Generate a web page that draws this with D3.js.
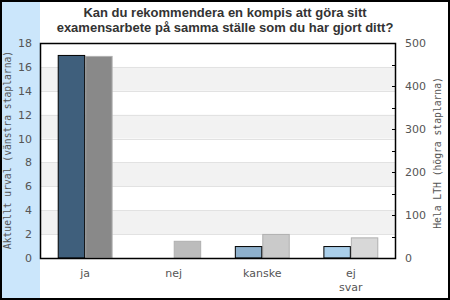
<!DOCTYPE html>
<html>
<head>
<meta charset="utf-8">
<script src="https://cdn.jsdelivr.net/npm/d3@7"></script>
<style>
body { margin: 0; background: #fff; }
</style>
</head>
<body>
<script>
var categories = ['ja', 'nej', 'kanske', 'ej svar'];
var urvalValues = [17, 0, 1, 1];
var lthValues = [470, 40, 56, 48];
var leftTicks = [0, 2, 4, 6, 8, 10, 12, 14, 16, 18];
var rightTicks = [0, 100, 200, 300, 400, 500];
var urvalColors = ['#3f5f7c', '#6a8fae', '#8eb0cc', '#aacfea'];
var lthColors = ['#898989', '#bcbcbc', '#cacaca', '#d8d8d8'];

var width = 450, height = 300;
var plotLeft = 40, plotRight = 396, plotTop = 43, plotBottom = 258;

var svg = d3.select('body')
	.append('svg')
	.attr('width', width)
	.attr('height', height);

// blue strip on the left
svg.append('rect')
	.attr('x', 0).attr('y', 0)
	.attr('width', plotLeft).attr('height', height)
	.attr('fill', '#cbe6fb');

var x0 = d3.scaleBand()
	.domain(categories)
	.range([plotLeft, plotRight])
	.paddingInner(0.38)
	.paddingOuter(0.2);

var x1 = d3.scaleBand()
	.domain(['urval', 'lth'])
	.range([0, x0.bandwidth()]);

var yLeft = d3.scaleLinear().domain([0, 18]).range([plotBottom, plotTop]);
var yRight = d3.scaleLinear().domain([0, 500]).range([plotBottom, plotTop]);

// alternating bands
var bands = [[2, 4], [6, 8], [10, 12], [14, 16]];
svg.selectAll('rect.band')
	.data(bands)
	.enter()
	.append('rect')
	.attr('class', 'band')
	.attr('x', plotLeft)
	.attr('width', plotRight - plotLeft)
	.attr('y', function(d) { return yLeft(d[1]); })
	.attr('height', function(d) { return yLeft(d[0]) - yLeft(d[1]); })
	.attr('fill', '#f2f2f2');

svg.selectAll('line.grid')
	.data(leftTicks.slice(1, -1))
	.enter()
	.append('line')
	.attr('class', 'grid')
	.attr('x1', plotLeft).attr('x2', plotRight)
	.attr('y1', function(d) { return Math.round(yLeft(d)) + 0.5; })
	.attr('y2', function(d) { return Math.round(yLeft(d)) + 0.5; })
	.attr('stroke', '#e2e2e2');

var groups = svg.selectAll('g.cat')
	.data(categories)
	.enter()
	.append('g')
	.attr('class', 'cat')
	.attr('transform', function(d) { return 'translate(' + x0(d) + ',0)'; });

groups.append('rect')
	.attr('x', x1('lth') + 0.5)
	.attr('width', x1.bandwidth() - 1)
	.attr('y', function(d, i) { return yRight(lthValues[i]) + 0.5; })
	.attr('height', function(d, i) { return Math.max(0, plotBottom - yRight(lthValues[i]) - 0.5); })
	.attr('fill', function(d, i) { return lthColors[i]; })
	.attr('stroke', '#b0b0b0');

groups.filter(function(d, i) { return urvalValues[i] > 0; })
	.append('rect')
	.attr('x', x1('urval') + 0.5)
	.attr('width', x1.bandwidth() - 1)
	.attr('y', function(d) { return yLeft(urvalValues[categories.indexOf(d)]) + 0.5; })
	.attr('height', function(d) { return plotBottom - yLeft(urvalValues[categories.indexOf(d)]) - 0.5; })
	.attr('fill', function(d) { return urvalColors[categories.indexOf(d)]; })
	.attr('stroke', '#000');

// left axis labels
var leftAxis = d3.axisLeft(yLeft).tickValues(leftTicks).tickSize(0).tickPadding(8);
var gl = svg.append('g').attr('transform', 'translate(' + plotLeft + ',0)').call(leftAxis);
gl.select('.domain').remove();
gl.selectAll('text').style('font-family', 'DejaVu Sans').style('font-size', '11px').attr('fill', '#555');

// right axis
var rightAxis = d3.axisRight(yRight).tickValues(rightTicks).tickSize(0).tickPadding(9);
var gr = svg.append('g').attr('transform', 'translate(' + plotRight + ',0)').call(rightAxis);
gr.select('.domain').remove();
gr.selectAll('text').style('font-family', 'DejaVu Sans').style('font-size', '11px').attr('fill', '#555');

var minor = d3.range(0, 501, 50);
svg.selectAll('line.rtick')
	.data(minor)
	.enter()
	.append('line')
	.attr('class', 'rtick')
	.attr('x1', plotRight - 4).attr('x2', plotRight)
	.attr('y1', function(d) { return Math.round(yRight(d)) + 0.5; })
	.attr('y2', function(d) { return Math.round(yRight(d)) + 0.5; })
	.attr('stroke', '#000');

// frame
svg.append('rect')
	.attr('x', plotLeft + 0.5).attr('y', plotTop + 0.5)
	.attr('width', plotRight - plotLeft - 1).attr('height', plotBottom - plotTop)
	.attr('fill', 'none')
	.attr('stroke', '#000')
	.attr('stroke-width', 1.5);

// category labels
var xl = svg.selectAll('text.xl')
	.data(categories)
	.enter()
	.append('text')
	.attr('class', 'xl')
	.attr('text-anchor', 'middle')
	.style('font-family', 'DejaVu Sans')
	.style('font-size', '11px')
	.attr('fill', '#555');

xl.each(function(d) {
	var words = d.split(' ');
	var t = d3.select(this);
	words.forEach(function(w, j) {
		t.append('tspan')
			.attr('x', x0(d) + x0.bandwidth() / 2)
			.attr('y', 277 + j * 14)
			.text(w);
	});
});

// axis titles
svg.append('text')
	.attr('transform', 'translate(11,150) rotate(-90)')
	.attr('text-anchor', 'middle')
	.style('font-family', 'DejaVu Sans Mono')
	.style('font-size', '9.7px')
	.attr('fill', '#555')
	.text('Aktuellt urval (vänstra staplarna)');

svg.append('text')
	.attr('transform', 'translate(441,153) rotate(-90)')
	.attr('text-anchor', 'middle')
	.style('font-family', 'DejaVu Sans Mono')
	.style('font-size', '9.7px')
	.attr('fill', '#555')
	.text('Hela LTH (högra staplarna)');

// title
var title = svg.append('text')
	.attr('text-anchor', 'middle')
	.style('font-family', 'Liberation Sans, Arial')
	.style('font-weight', 'bold')
	.style('font-size', '13px')
	.attr('fill', '#333');
title.append('tspan').attr('x', 225).attr('y', 17).text('Kan du rekommendera en kompis att göra sitt');
title.append('tspan').attr('x', 225).attr('y', 32).text('examensarbete på samma ställe som du har gjort ditt?');

// outer border
svg.append('rect')
	.attr('x', 1).attr('y', 1)
	.attr('width', width - 2).attr('height', height - 2)
	.attr('fill', 'none')
	.attr('stroke', '#000')
	.attr('stroke-width', 2);
</script>
</body>
</html>
